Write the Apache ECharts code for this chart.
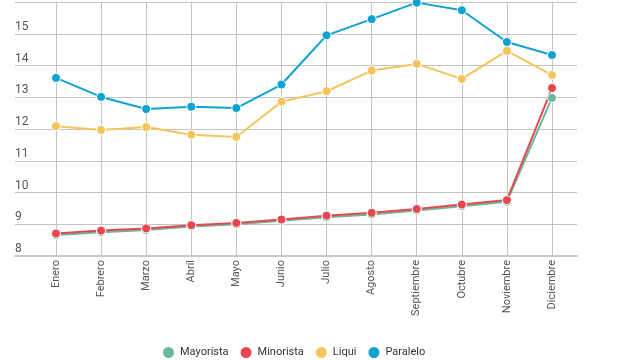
<!DOCTYPE html>
<html><head><meta charset="utf-8">
<script src="https://cdn.jsdelivr.net/npm/echarts@6/dist/echarts.min.js"></script>
<style>html,body{margin:0;padding:0;background:#fff}#c{width:640px;height:360px}</style>
</head><body><div id="c"></div>
<script>
const categories = ['Enero','Febrero','Marzo','Abril','Mayo','Junio','Julio','Agosto','Septiembre','Octubre','Noviembre','Diciembre'];
const mayorista = [8.66, 8.75, 8.82, 8.93, 9.00, 9.11, 9.22, 9.31, 9.43, 9.57, 9.71, 12.98];
const minorista = [8.71, 8.80, 8.87, 8.97, 9.04, 9.15, 9.27, 9.36, 9.48, 9.62, 9.76, 13.29];
const liqui = [12.09, 11.97, 12.06, 11.82, 11.75, 12.86, 13.19, 13.84, 14.05, 13.58, 14.46, 13.70];
const paralelo = [13.61, 13.01, 12.63, 12.70, 12.66, 13.40, 14.95, 15.46, 15.98, 15.74, 14.74, 14.33];
const seriesNames = ['Mayorista','Minorista','Liqui','Paralelo'];
const colors = ['#67b99a','#e8474f','#f4c55c','#0fa3d1'];
const seriesData = [mayorista, minorista, liqui, paralelo];

const chart = echarts.init(document.getElementById('c'));
const font = 'Roboto, sans-serif';
chart.setOption({
  animation: false,
  textStyle: {fontFamily: font},
  color: colors,
  grid: [
    {left: 15, right: 63, top: 2, bottom: 104},
    {left: 56, right: 88, top: 2, bottom: 104}
  ],
  xAxis: [
    {gridIndex: 0, type: 'value', min: 0, max: 1, axisLabel: {show: false}, axisTick: {show: false}, splitLine: {show: false},
     axisLine: {show: true, lineStyle: {color: '#c8c8c8', width: 2}}},
    {gridIndex: 1, type: 'category', data: categories, boundaryGap: false,
     axisLine: {show: false}, axisTick: {show: false},
     axisLabel: {rotate: 90, fontSize: 11, color: '#555', margin: 4, fontFamily: font, interval: 0},
     splitLine: {show: true, lineStyle: {color: '#c4c4c4', width: 1}}}
  ],
  yAxis: [
    {gridIndex: 0, type: 'value', min: 8, max: 16, interval: 1,
     axisLine: {show: false}, axisTick: {show: false},
     axisLabel: {inside: true, verticalAlign: 'bottom', margin: 0, padding: [0,0,1,0], fontSize: 12, color: '#555', showMaxLabel: false, fontFamily: font},
     splitLine: {show: true, lineStyle: {color: '#c4c4c4', width: 1}}},
    {gridIndex: 1, type: 'value', min: 8, max: 16, interval: 1, show: false, splitLine: {show: false}}
  ],
  legend: {
    data: seriesNames, left: 156, top: 340, icon: 'circle', itemWidth: 13, itemHeight: 13, itemGap: 10,
    textStyle: {fontSize: 11, color: '#333', fontFamily: font}
  },
  series: seriesData.map((d, i) => ({
    name: seriesNames[i], type: 'line', xAxisIndex: 1, yAxisIndex: 1, data: d,
    symbol: 'circle', symbolSize: 9, showSymbol: true,
    lineStyle: {width: 2, color: colors[i]},
    itemStyle: {color: colors[i], borderColor: '#fff', borderWidth: 1}
  }))
});
</script></body></html>
